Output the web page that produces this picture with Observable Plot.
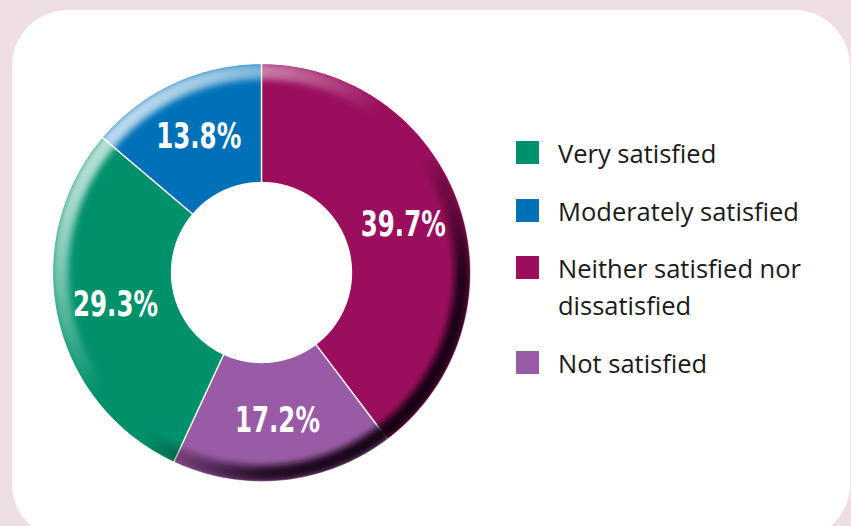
<!DOCTYPE html>
<html><head><meta charset="utf-8">
<script src="https://cdn.jsdelivr.net/npm/d3@7"></script>
<script src="https://cdn.jsdelivr.net/npm/@observablehq/plot@0.6"></script>
<style>
html,body{margin:0;padding:0;}
body{width:851px;height:526px;overflow:hidden;background:#efdee6;position:relative;font-family:"Open Sans",sans-serif;}
#panel{position:absolute;left:12px;top:10px;width:838px;height:530px;background:#fff;border-radius:56px;}
#chart{position:absolute;left:0;top:0;}
#legend{position:absolute;left:516px;top:135px;}
.item{display:flex;align-items:flex-start;margin-bottom:20.5px;}
.sw{width:23px;height:23px;margin-top:6px;flex:none;}
.lab{margin-left:19px;width:270px;font-size:25.5px;line-height:37px;color:#1a1a1a;}
</style></head><body>
<div id="panel"></div><div id="chart"></div><div id="legend"></div>
<script>
const categories = ["Very satisfied", "Moderately satisfied", "Neither satisfied nor dissatisfied", "Not satisfied"];
const shares = [29.3, 13.8, 39.7, 17.2];
const palette = ["#00916b", "#0071b9", "#9b0e5e", "#9a5ba6"];
const clockwiseOrder = ["Neither satisfied nor dissatisfied", "Not satisfied", "Very satisfied", "Moderately satisfied"];

const rIn = 90 / 209, rLabel = (1 + rIn) / 2, rRim = 1 - 8 / 209;
const total = d3.sum(shares);
let acc = 0;
const slices = clockwiseOrder.map(c => {
  const v = shares[categories.indexOf(c)];
  const a0 = acc / total * 2 * Math.PI; acc += v;
  const a1 = acc / total * 2 * Math.PI;
  return {category: c, value: v, a0, a1};
});
const pts = [];
for (const s of slices) {
  const n = Math.max(2, Math.ceil((s.a1 - s.a0) / (Math.PI / 360)));
  for (let k = 0; k <= n; k++) { const a = s.a0 + (s.a1 - s.a0) * k / n; pts.push({category: s.category, x: Math.sin(a), y: Math.cos(a)}); }
  for (let k = n; k >= 0; k--) { const a = s.a0 + (s.a1 - s.a0) * k / n; pts.push({category: s.category, x: rIn * Math.sin(a), y: rIn * Math.cos(a)}); }
}
const rim = d3.range(0, 720).map(k => { const a = k / 720 * 2 * Math.PI; return {x: rRim * Math.sin(a), y: rRim * Math.cos(a)}; });

const RIM_MARKER = "#010203";
const plot = Plot.plot({
  width: 851, height: 526,
  marginLeft: 52, marginRight: 381, marginTop: 63, marginBottom: 45,
  x: {domain: [-1, 1], axis: null}, y: {domain: [-1, 1], axis: null},
  color: {domain: categories, range: palette},
  style: {background: "transparent", overflow: "visible"},
  marks: [
    Plot.line(pts, {x: "x", y: "y", z: "category", fill: "category", stroke: "white", strokeWidth: 1.3, curve: "linear-closed"}),
    Plot.line(rim, {x: "x", y: "y", stroke: RIM_MARKER, strokeWidth: 16, curve: "linear-closed"}),
    Plot.text(slices, {
      x: d => rLabel * Math.sin((d.a0 + d.a1) / 2),
      y: d => rLabel * Math.cos((d.a0 + d.a1) / 2),
      text: d => d.value.toFixed(1) + "%",
      fill: "white", fontSize: 35, fontWeight: "bold",
      fontFamily: "'Liberation Sans Narrow', 'DejaVu Sans Condensed', 'Liberation Sans', sans-serif"
    })
  ]
});
document.getElementById("chart").appendChild(plot);

const xs = plot.scale("x"), ys = plot.scale("y");
const cx = xs.apply(0), cy = ys.apply(0), R = xs.apply(1) - cx;
const defs = document.createElementNS("http://www.w3.org/2000/svg", "defs");
defs.innerHTML = `
<linearGradient id="rimGrad" gradientUnits="userSpaceOnUse" x1="${cx - 0.7 * R}" y1="${cy - 0.7 * R}" x2="${cx + 0.7 * R}" y2="${cy + 0.7 * R}">
  <stop offset="0" stop-color="#ffffff" stop-opacity="0.75"/>
  <stop offset="0.42" stop-color="#ffffff" stop-opacity="0"/>
  <stop offset="0.58" stop-color="#120410" stop-opacity="0"/>
  <stop offset="0.85" stop-color="#120410" stop-opacity="0.85"/>
  <stop offset="1" stop-color="#120410" stop-opacity="0.95"/>
</linearGradient>
<filter id="rimBlur" x="-20%" y="-20%" width="140%" height="140%"><feGaussianBlur stdDeviation="3"/></filter>
<clipPath id="rimClip"><circle cx="${cx}" cy="${cy}" r="${R}"/></clipPath>`;
plot.insertBefore(defs, plot.firstChild);
plot.querySelectorAll(`[stroke="${RIM_MARKER}"]`).forEach(el => {
  el.setAttribute("stroke", "url(#rimGrad)");
  if (el.tagName.toLowerCase() === "g") {
    el.setAttribute("filter", "url(#rimBlur)");
    el.setAttribute("clip-path", "url(#rimClip)");
  }
});
plot.querySelectorAll("text").forEach(t => {
  if (/%$/.test(t.textContent)) {
    t.setAttribute("textLength", 85);
    t.setAttribute("lengthAdjust", "spacingAndGlyphs");
  }
});

const legend = document.getElementById("legend");
categories.forEach((c, i) => {
  const item = document.createElement("div"); item.className = "item";
  const sw = document.createElement("div"); sw.className = "sw"; sw.style.background = palette[i];
  const lab = document.createElement("div"); lab.className = "lab"; lab.textContent = c;
  item.appendChild(sw); item.appendChild(lab); legend.appendChild(item);
});
</script>
</body></html>
